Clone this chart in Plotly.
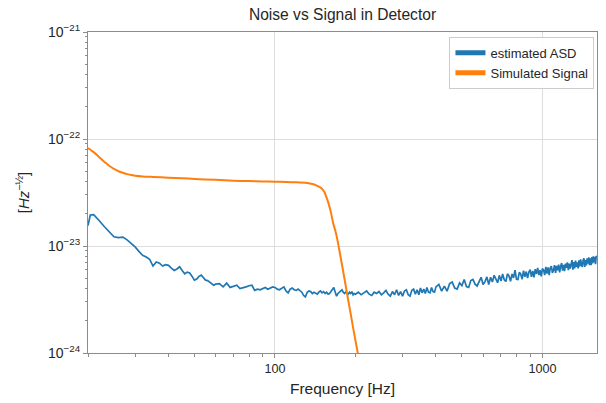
import plotly.graph_objects as go
import numpy as np

# ---------------- data (ASD values in units of 1e-24 / sqrt(Hz)) ----------------
noise_freq_low = [20, 20.4, 21, 21.5, 22, 23, 24, 25, 26, 27, 28, 29, 30, 31, 32, 33, 34, 35,
                  36, 37, 38, 39, 40, 41, 42, 43, 44, 45, 46, 47, 48, 49, 50, 51, 52, 53,
                  54, 55, 56, 57, 58, 59, 60]
noise_asd_low = [15.5, 19.5, 19.6, 18.6, 17.3, 15.2, 13.7, 12.2, 12.0, 12.1, 11.4, 10.6, 9.8,
                 8.9, 8.2, 7.9, 7.5, 6.5, 7.1, 6.9, 6.5, 6.7, 6.6, 6.2, 5.9, 6.1, 6.4, 5.9,
                 5.5, 5.7, 5.6, 5.2, 4.8, 4.9, 5.2, 5.35, 5.0, 4.8, 4.75, 4.6, 4.5, 4.3, 4.4]

noise_freq_mid = [62, 64, 66, 68, 70, 72, 74, 76, 78, 80,
                  82, 84, 86, 88, 90, 92, 94, 96, 98, 100,
                  102, 104, 106, 108, 110, 112, 114, 116, 118, 120,
                  122, 124, 126, 128, 130, 132, 134, 136, 138, 140,
                  142, 144, 146, 148, 150, 152, 154, 156, 158, 160,
                  162, 164, 166, 168, 170, 172, 174, 176, 178, 180,
                  182, 184, 186, 188, 190, 192, 194, 196, 198, 200]
noise_asd_mid = [4.45, 4.15, 4.5, 4.1, 4.2, 4.3, 4.0, 4.05, 4.15, 4.25,
                 4.3, 3.85, 3.95, 3.9, 4.0, 4.1, 3.95, 4.05, 4.15, 4.1,
                 3.95, 3.9, 4.0, 4.15, 3.8, 3.65, 3.95, 4.05, 3.9, 3.85,
                 3.95, 3.85, 3.7, 3.45, 3.35, 3.7, 3.8, 3.75, 3.6, 3.7,
                 3.65, 3.55, 3.7, 3.8, 3.65, 3.75, 3.6, 3.7, 3.55, 3.6,
                 3.75, 3.9, 4.1, 3.7, 3.4, 3.6, 3.7, 3.8, 3.9, 3.7,
                 3.6, 3.7, 3.65, 3.55, 3.7, 3.6, 3.75, 3.5, 3.6, 3.55]

noise_freq_upper = [205, 210, 215, 220, 225, 230, 235, 240, 245, 250,
                    255, 260, 265, 270, 275, 280, 285, 290, 295, 300,
                    305, 310, 315, 320, 325, 330, 335, 340, 345, 350,
                    355, 360, 365, 370, 375, 380, 385, 390, 395, 400]
noise_asd_upper = [3.7, 3.5, 3.65, 3.8, 3.55, 3.45, 3.7, 3.6, 3.75, 3.5,
                   3.65, 3.85, 3.55, 3.4, 3.75, 3.5, 3.9, 3.45, 3.75, 3.4,
                   3.8, 3.9, 3.5, 3.4, 3.85, 3.95, 3.55, 3.9, 3.5, 4.05,
                   3.65, 3.95, 3.6, 4.1, 3.7, 3.65, 4.1, 3.75, 3.7, 4.15]

noise_freq_high = [410, 420, 430, 440, 450, 460, 470, 480, 490, 500,
                   510, 520, 530, 540, 550, 560, 570, 580, 590, 600,
                   610, 620, 630, 640, 650, 660, 670, 680, 690, 700,
                   710, 720, 730, 740, 750, 760, 770, 780, 790, 800,
                   810, 820, 830, 840, 850, 860, 870, 880, 890, 900,
                   910, 920, 930, 940, 950, 960, 970, 980, 990, 1000,
                   1010, 1020, 1030, 1040, 1050, 1060, 1070, 1080, 1090, 1100,
                   1110, 1120, 1130, 1140, 1150, 1160, 1170, 1180, 1190, 1200,
                   1210, 1220, 1230, 1240, 1250, 1260, 1270, 1280, 1290, 1300,
                   1310, 1320, 1330, 1340, 1350, 1360, 1370, 1380, 1390, 1400,
                   1410, 1420, 1430, 1440, 1450, 1460, 1470, 1480, 1490, 1500,
                   1510, 1520, 1530, 1540, 1550, 1560, 1570, 1580, 1590, 1600]
noise_asd_high = [4.37, 3.79, 4.22, 3.78, 4.45, 4.60, 4.04, 3.96, 4.52, 4.27,
                  4.86, 4.18, 4.10, 4.75, 4.87, 4.40, 4.23, 4.74, 5.10, 4.37,
                  4.64, 5.14, 4.36, 5.11, 4.61, 5.32, 4.96, 4.54, 5.32, 4.70,
                  5.47, 4.84, 4.66, 5.49, 5.25, 4.67, 5.47, 5.03, 5.95, 4.88,
                  4.86, 5.68, 5.45, 4.89, 5.89, 5.15, 5.77, 5.02, 5.70, 6.00,
                  5.14, 5.84, 5.09, 6.07, 5.48, 6.24, 5.35, 5.94, 5.21, 6.15,
                  5.95, 5.35, 6.37, 5.52, 6.31, 5.34, 6.26, 6.47, 5.60, 5.93,
                  6.63, 5.62, 6.51, 5.92, 6.70, 5.67, 6.45, 6.92, 5.88, 6.67,
                  5.81, 6.85, 6.24, 7.03, 5.96, 6.83, 6.14, 7.07, 7.37, 6.01,
                  7.09, 6.19, 7.29, 6.38, 7.02, 6.17, 7.35, 6.43, 7.49, 6.69,
                  6.38, 7.38, 7.69, 6.39, 7.40, 6.58, 7.68, 6.85, 7.82, 6.62,
                  7.66, 6.61, 7.87, 6.88, 8.01, 7.01, 7.93, 6.77, 8.07, 7.80]

signal_freq = [20, 21, 22, 23, 24, 25, 26, 27, 28, 29, 30, 32, 35, 40, 45, 50, 60, 70, 80, 90,
               100, 110, 120, 130, 138, 142, 146, 150, 153, 156, 159, 162, 165, 168, 171,
               175, 179, 183, 187, 191, 195, 199, 203, 206, 210]
signal_asd = [82.5, 75.4, 68.0, 61.2, 56.3, 52.6, 50.0, 48.3, 47.0, 46.0, 45.4, 44.7, 44.2,
              43.5, 43.0, 42.3, 41.5, 40.8, 40.4, 40.1, 39.9, 39.6, 39.4, 39.0, 37.9, 37.1,
              35.8, 34.2, 31.9, 28.3, 24.5, 20.5, 16.4, 14.0, 11.6, 8.5, 6.25, 4.55, 3.34,
              2.49, 1.85, 1.40, 1.07, 0.88, 0.70]

series_names = ["estimated ASD", "Simulated Signal"]
series_colors = ["#1f77b4", "#ff7f0e"]

y_major = [1e-24, 1e-23, 1e-22, 1e-21]
y_major_text = ["10<sup>−24</sup>", "10<sup>−23</sup>", "10<sup>−22</sup>", "10<sup>−21</sup>"]
x_major = [100, 1000]
x_major_text = ["100", "1000"]

UNIT = 1e-24

noise_f = noise_freq_low + noise_freq_mid + noise_freq_upper + noise_freq_high
noise_v = np.array(noise_asd_low + noise_asd_mid + noise_asd_upper + noise_asd_high) * UNIT
sig_v = np.array(signal_asd) * UNIT

x_minor = [k * 10 ** e for e in (1, 2, 3) for k in range(2, 10)]
y_minor = [k * 10.0 ** e for e in (-24, -23, -22) for k in range(2, 10)]

FONT = "Liberation Sans, Arial, sans-serif"
AX = "#8c8c8c"

fig = go.Figure()
fig.add_trace(go.Scatter(x=noise_f, y=noise_v, mode="lines", name=series_names[0],
                         line=dict(color=series_colors[0], width=1.7), showlegend=False))
fig.add_trace(go.Scatter(x=signal_freq, y=sig_v, mode="lines", name=series_names[1],
                         line=dict(color=series_colors[1], width=2, shape="spline",
                                   smoothing=0.6), showlegend=False))
for nm, col in zip(series_names, series_colors):
    fig.add_trace(go.Scatter(x=[None], y=[None], mode="lines", name=nm,
                             line=dict(color=col, width=5), showlegend=True))

fig.update_layout(
    width=606, height=403,
    margin=dict(l=88, r=9, t=32, b=50),
    paper_bgcolor="white", plot_bgcolor="white",
    font=dict(family=FONT, size=12, color="#262626"),
    title=dict(text="Noise vs Signal in Detector", x=0.5, xref="paper", xanchor="center",
               y=1, yref="container", yanchor="top", pad=dict(t=9),
               font=dict(size=15.6, color="#262626")),
    legend=dict(x=0.995, y=0.985, xanchor="right", yanchor="top",
                bgcolor="rgba(255,255,255,0.9)", bordercolor="#cccccc", borderwidth=1,
                font=dict(size=13, color="#262626"), itemwidth=30,
                tracegroupgap=0),
    showlegend=True,
)

fig.update_xaxes(type="log", range=[np.log10(20), np.log10(1600)],
                 tickmode="array", tickvals=x_major, ticktext=x_major_text,
                 ticks="outside", ticklen=4, tickcolor=AX, tickwidth=1,
                 showgrid=True, gridcolor="#dddddd", gridwidth=1,
                 showline=True, linecolor=AX, linewidth=1, mirror=True,
                 zeroline=False,
                 minor=dict(tickmode="array", tickvals=x_minor, ticks="outside",
                            ticklen=2.5, tickcolor=AX, showgrid=False),
                 title=dict(text="Frequency [Hz]", font=dict(size=15.5), standoff=8),
                 tickfont=dict(size=12.6))
fig.update_yaxes(type="log", range=[-24, -21],
                 tickmode="array", tickvals=y_major, ticktext=y_major_text,
                 ticks="outside", ticklen=4, tickcolor=AX, tickwidth=1,
                 showgrid=True, gridcolor="#dddddd", gridwidth=1,
                 showline=True, linecolor=AX, linewidth=1, mirror=True,
                 zeroline=False,
                 minor=dict(tickmode="array", tickvals=y_minor, ticks="outside",
                            ticklen=2.5, tickcolor=AX, showgrid=False),
                 title=dict(text="[<i>Hz</i><sup>−½</sup>]", font=dict(size=15), standoff=14),
                 tickfont=dict(size=14))

fig.write_html("out.html")
